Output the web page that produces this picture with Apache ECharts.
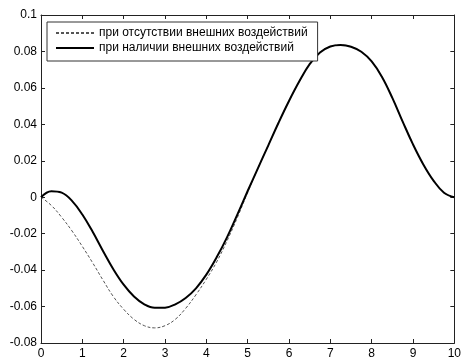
<!DOCTYPE html>
<html>
<head>
<meta charset="utf-8">
<script src="https://cdn.jsdelivr.net/npm/echarts@6/dist/echarts.min.js"></script>
<style>
  html, body { margin: 0; padding: 0; background: #fff; }
  #chart { width: 464px; height: 363px; }
</style>
</head>
<body>
<div id="chart"></div>
<script>
// Time samples (step 0.25)
const tValues = [0, 0.25, 0.5, 0.75, 1, 1.25, 1.5, 1.75, 2, 2.25, 2.5, 2.75, 3, 3.25, 3.5, 3.75,
  4, 4.25, 4.5, 4.75, 5, 5.25, 5.5, 5.75, 6, 6.25, 6.5, 6.75, 7, 7.25, 7.5, 7.75,
  8, 8.25, 8.5, 8.75, 9, 9.25, 9.5, 9.75, 10];

// Response without external influences
const freeValues = [0, -0.0045, -0.011, -0.0185, -0.027, -0.036, -0.0455, -0.0545, -0.0615, -0.067,
  -0.0705, -0.0717, -0.0705, -0.067, -0.061, -0.0535, -0.045, -0.0355, -0.024, -0.0112,
  0.0026, 0.016, 0.0285, 0.041, 0.0528, 0.0636, 0.073, 0.0794, 0.0827, 0.0835, 0.0826, 0.0798,
  0.0745, 0.066, 0.0545, 0.0415, 0.029, 0.018, 0.009, 0.0025, 0];

// Response with external influences
const forcedValues = [0, 0.0033, 0.0025, -0.002, -0.0095, -0.019, -0.0295, -0.0395, -0.048, -0.0545,
  -0.0588, -0.0607, -0.0606, -0.0588, -0.0553, -0.050, -0.0425, -0.033, -0.022, -0.0095,
  0.0034, 0.016, 0.0285, 0.041, 0.0528, 0.0636, 0.073, 0.0794, 0.0827, 0.0835, 0.0826, 0.0798,
  0.0745, 0.066, 0.0545, 0.0415, 0.029, 0.018, 0.009, 0.0025, 0];

const seriesNames = ['при отсутствии внешних воздействий', 'при наличии внешних воздействий'];

const xTickLabels = ['0', '1', '2', '3', '4', '5', '6', '7', '8', '9', '10'];
const yTickLabels = ['-0.08', '-0.06', '-0.04', '-0.02', '0', '0.02', '0.04', '0.06', '0.08', '0.1'];

const X_MIN = 0, X_MAX = 10, X_STEP = 1;
const Y_MIN = -0.08, Y_MAX = 0.1, Y_STEP = 0.02;

const FONT = '"Liberation Sans", Arial, sans-serif';
const AXIS_COLOR = '#222';

function pairs(xs, ys) { return xs.map((x, i) => [x, ys[i]]); }

function frameAxis(kind, position, showLabels) {
  const isX = kind === 'x';
  const labels = isX ? xTickLabels : yTickLabels;
  const min = isX ? X_MIN : Y_MIN;
  const step = isX ? X_STEP : Y_STEP;
  return {
    type: 'value',
    position: position,
    min: min,
    max: isX ? X_MAX : Y_MAX,
    interval: step,
    splitLine: { show: false },
    axisLine: { show: true, onZero: false, lineStyle: { color: AXIS_COLOR, width: 1 } },
    axisTick: { show: true, inside: true, length: 4, lineStyle: { color: AXIS_COLOR, width: 1 } },
    axisLabel: {
      show: showLabels,
      margin: isX ? 5 : 4,
      color: '#000',
      fontFamily: FONT,
      fontSize: 12,
      formatter: v => labels[Math.round((v - min) / step)]
    }
  };
}

const chart = echarts.init(document.getElementById('chart'), null, { renderer: 'canvas' });

chart.setOption({
  animation: false,
  backgroundColor: '#fff',
  grid: { left: 41, right: 6, top: 15, bottom: 20, containLabel: false },
  xAxis: [frameAxis('x', 'bottom', true), frameAxis('x', 'top', false)],
  yAxis: [frameAxis('y', 'left', true), frameAxis('y', 'right', false)],
  legend: {
    orient: 'vertical',
    left: 47,
    top: 22,
    data: seriesNames,
    itemWidth: 38,
    itemHeight: 12,
    itemGap: 3,
    padding: [5, 10, 7, 8],
    backgroundColor: '#fff',
    borderColor: '#333',
    borderWidth: 1,
    borderRadius: 0,
    selectedMode: false,
    // line-only keys: hide the marker drawn in the middle of each key
    itemStyle: { color: 'rgba(0,0,0,0)', borderWidth: 0, opacity: 0 },
    textStyle: { color: '#000', fontFamily: FONT, fontSize: 12 }
  },
  series: [
    {
      name: seriesNames[0],
      type: 'line',
      data: pairs(tValues, freeValues),
      smooth: 0.4,
      symbol: 'none',
      lineStyle: { color: '#555', width: 1, type: [3, 2] },
      itemStyle: { color: '#555' },
      z: 2
    },
    {
      name: seriesNames[1],
      type: 'line',
      data: pairs(tValues, forcedValues),
      smooth: 0.4,
      symbol: 'none',
      lineStyle: { color: '#000', width: 2 },
      itemStyle: { color: '#000' },
      z: 3
    }
  ]
});
</script>
</body>
</html>
